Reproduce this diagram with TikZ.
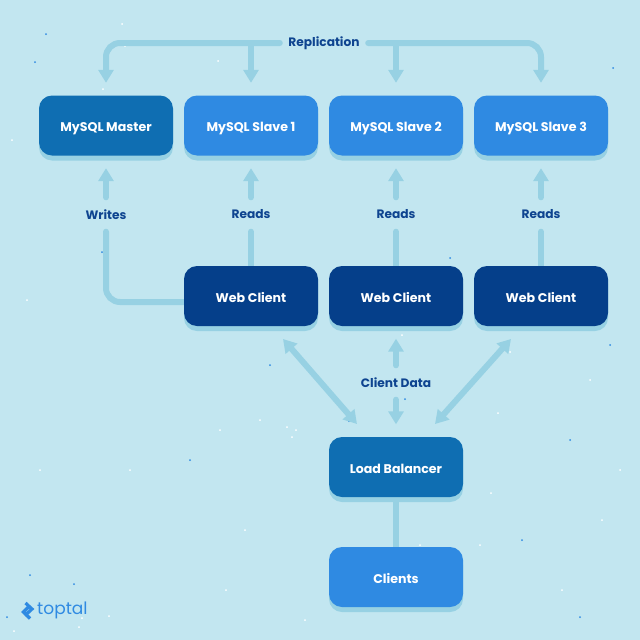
\documentclass[tikz,border=0pt]{standalone}
\usepackage{fontspec}
\setmainfont{Poppins}
\usetikzlibrary{arrows.meta,shadows,backgrounds}
\definecolor{bgc}{HTML}{C2E6F0}
\definecolor{linec}{HTML}{97D1E3}
\definecolor{masterc}{HTML}{0F6EB2}
\definecolor{slavec}{HTML}{2F8AE2}
\definecolor{webc}{HTML}{053F8A}
\definecolor{labelc}{HTML}{0E4490}
\newcommand{\boxtxt}[1]{\raisebox{-6.3pt}[0pt][0pt]{#1}}
\tikzset{
  box/.style={rounded corners=13pt,minimum width=134pt,minimum height=60pt,inner sep=0pt,
    text=white,font=\fontsize{12.6}{14}\selectfont\bfseries,
    general shadow={fill=linec,shadow yshift=-5pt}},
  masterbox/.style={box,fill=masterc},
  slavebox/.style={box,fill=slavec},
  webbox/.style={box,fill=webc},
  lbl/.style={text=labelc,font=\fontsize{12.2}{14}\selectfont\bfseries,inner sep=0pt,minimum height=34pt,minimum width=20pt},
  conn/.style={draw=linec,line width=6pt,line cap=round},
  tipped/.style={conn,-{Triangle[length=13pt,width=15pt]}},
  bothtip/.style={conn,{Triangle[length=13pt,width=15pt]}-{Triangle[length=13pt,width=15pt]}},
  specw/.style={fill=white,draw=none},
  specb/.style={fill=slavec,draw=none}
}
\begin{document}
\begin{tikzpicture}[x=1pt,y=-1pt]
\useasboundingbox (0,0) rectangle (640,640);
% nodes
\node[masterbox] (master) at (106,125.5) {\boxtxt{MySQL Master}};
\node[slavebox] (s1) at (251,125.5) {\boxtxt{MySQL Slave 1}};
\node[slavebox] (s2) at (396,125.5) {\boxtxt{MySQL Slave 2}};
\node[slavebox] (s3) at (541,125.5) {\boxtxt{MySQL Slave 3}};
\node[webbox] (w1) at (251,296) {\boxtxt{Web Client}};
\node[webbox] (w2) at (396,296) {\boxtxt{Web Client}};
\node[webbox] (w3) at (541,296) {\boxtxt{Web Client}};
\node[masterbox] (lb) at (396,467) {\boxtxt{Load Balancer}};
\node[slavebox] (cl) at (396,577) {\boxtxt{Clients}};
\node[lbl,minimum width=88pt] (rep) at (324,43) {Replication};
\node[lbl] (wr) at (106,214.5) {Writes};
\node[lbl] (r1) at (251,214.5) {Reads};
\node[lbl] (r2) at (396,214.5) {Reads};
\node[lbl] (r3) at (541,214.5) {Reads};
\node[lbl] (cd) at (396,382.5) {Client Data};
\begin{scope}[on background layer]
\fill[bgc] (0,0) rectangle (640,640);
% speckles
\foreach \x/\y in {125/46,218/61,103/89,287/427,292/437,498/413,491/493,14/631,82/618,79/627,109/616,122/24,260/420,296/430,441/450,590/380,27/300,12/140,226/590,402/335,510/352,305/620,562/590,480/545,620/470,150/300,245/530,420/545,602/520,40/470,130/470,220/430}
  \fill[specw] (\x,\y) circle (1pt);
\foreach \x/\y in {46/34,35/62,349/421,405/399,74/584,7/617,613/68,450/258,580/617,522/540,102/252,476/122,550/300,270/365,610/345,30/575,190/460,570/440}
  \fill[specb] (\x,\y) circle (1pt);
% connectors
\draw[tipped,rounded corners=14pt,shorten >=12.5pt] (rep.west) -| (master.north);
\draw[tipped,shorten >=12.5pt] (rep.west -| s1.north) -- (s1.north);
\draw[tipped,shorten >=12.5pt] (rep.east -| s2.north) -- (s2.north);
\draw[tipped,rounded corners=14pt,shorten >=12.5pt] (rep.east) -| (s3.north);
\draw[tipped,shorten >=12.5pt] (wr.north) -- (master.south);
\draw[tipped,shorten >=12.5pt] (r1.north) -- (s1.south);
\draw[tipped,shorten >=12.5pt] (r2.north) -- (s2.south);
\draw[tipped,shorten >=12.5pt] (r3.north) -- (s3.south);
\draw[conn] (r1.south) -- (w1.north);
\draw[conn] (r2.south) -- (w2.north);
\draw[conn] (r3.south) -- (w3.north);
\draw[conn,rounded corners=14pt] (wr.south) |- ([yshift=-6pt]w1.west);
\draw[tipped,shorten >=12.5pt] (cd.north) -- (w2.south);
\draw[tipped,shorten >=12.5pt] (cd.south) -- (lb.north);
\draw[conn] (lb.south) -- (cl.north);
\coordinate (dl1) at (283,339);
\coordinate (dl2) at (357,424);
\coordinate (dr1) at (511,339);
\coordinate (dr2) at (435,424);
\draw[bothtip] (dl1) -- (dl2);
\draw[bothtip] (dr1) -- (dr2);
\end{scope}
% logo
\draw[slavec,line width=3.2pt,line join=miter] (25.5,603) -- (32,609) -- (25,615.5);
\draw[slavec,line width=3.2pt,line join=miter] (29.5,606) -- (23.5,612) -- (30,618.5);
\node[text=slavec,font=\fontsize{17}{20}\selectfont,inner sep=0pt,anchor=west] (logo) at (37,610) {toptal};
\end{tikzpicture}
\end{document}
